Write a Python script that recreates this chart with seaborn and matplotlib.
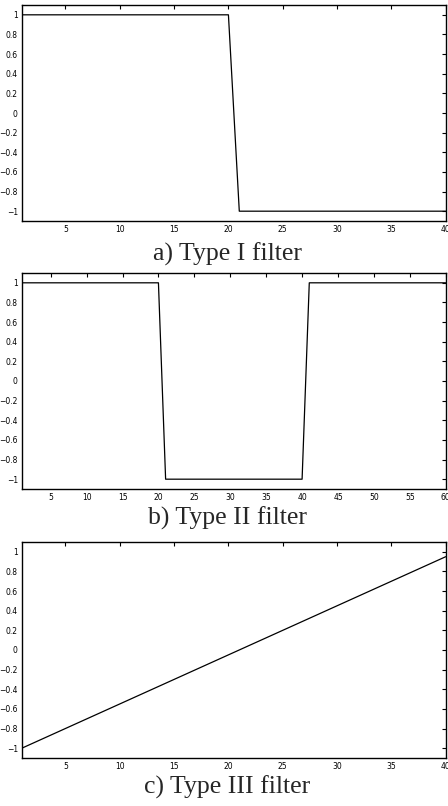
import matplotlib
matplotlib.use("Agg")
import matplotlib.pyplot as plt
import seaborn as sns
import pandas as pd

# polyline vertices
type1_x = [1, 20, 21, 40]
type1_y = [1, 1, -1, -1]

type2_x = [1, 20, 21, 40, 41, 60]
type2_y = [1, 1, -1, -1, 1, 1]

type3_x = [1, 40]
type3_y = [-1, 0.95]

captions = ["a) Type I filter", "b) Type II filter", "c) Type III filter"]
xmax = [40, 60, 40]
yticks = [-1, -0.8, -0.6, -0.4, -0.2, 0, 0.2, 0.4, 0.6, 0.8, 1]
ytick_labels = ["\u22121", "\u22120.8", "\u22120.6", "\u22120.4", "\u22120.2", "0", "0.2", "0.4", "0.6", "0.8", "1"]

sns.set_style("white")
plt.rcParams["axes.linewidth"] = 1.0

fig = plt.figure(figsize=(4.48, 8.06), dpi=100)
bottoms = [0.7258, 0.3933, 0.0596]
caption_y = [1 - 254 / 806, 1 - 518 / 806, 1 - 787 / 806]
series = [(type1_x, type1_y), (type2_x, type2_y), (type3_x, type3_y)]

for i, (xs, ys) in enumerate(series):
    ax = fig.add_axes([0.049, bottoms[i], 0.946, 0.268])
    df = pd.DataFrame({"x": xs, "y": ys})
    sns.lineplot(data=df, x="x", y="y", ax=ax, color="black", linewidth=0.9)
    ax.set_xlim(1, xmax[i])
    ax.set_ylim(-1.1, 1.1)
    ax.set_xticks(list(range(5, xmax[i] + 1, 5)))
    ax.set_yticks(yticks)
    ax.set_yticklabels(ytick_labels)
    ax.set_xlabel("")
    ax.set_ylabel("")
    for s in ax.spines.values():
        s.set_visible(True)
        s.set_color("black")
    ax.tick_params(direction="in", length=3, width=0.8, top=True, right=True,
                   labelsize=5.5, pad=3, colors="black")
    fig.text(0.507, caption_y[i], captions[i], ha="center", va="center",
             family="Liberation Serif", fontsize=18.5)

fig.savefig("out.png", dpi=100)
